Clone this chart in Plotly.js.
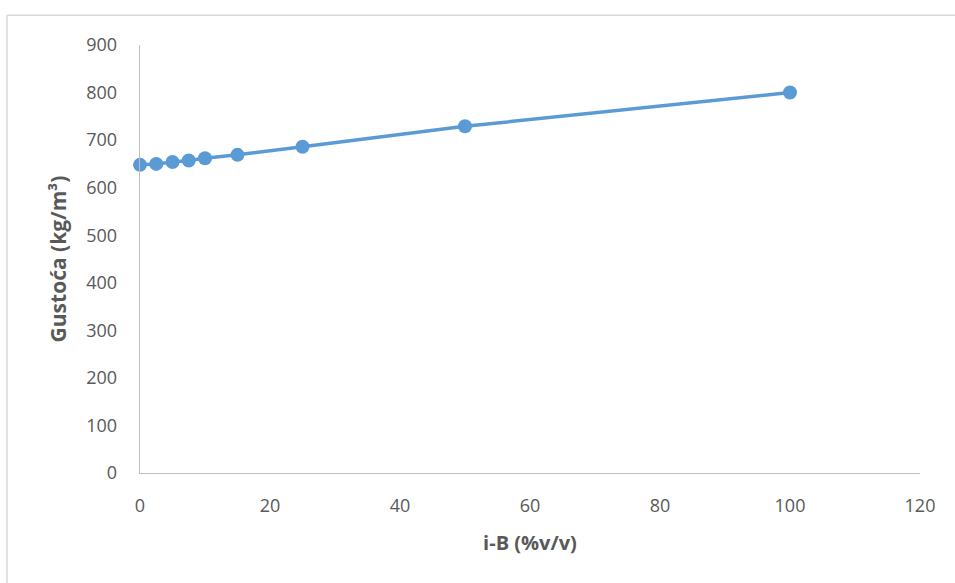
<!DOCTYPE html>
<html>
<head>
<meta charset="utf-8">
<script src="https://cdn.plot.ly/plotly-3.0.1.min.js"></script>
<style>
html,body{margin:0;padding:0;background:#fff;}
#chart{width:955px;height:583px;}
</style>
</head>
<body>
<div id="chart"></div>
<script>
const iB = [0, 2.5, 5, 7.5, 10, 15, 25, 50, 100];
const gustoca = [648, 650, 654, 657, 662, 669, 686, 729, 800];
const xTicks = [0, 20, 40, 60, 80, 100, 120];
const yTicks = [0, 100, 200, 300, 400, 500, 600, 700, 800, 900];

const fontFam = '"Open Sans", "Liberation Sans", sans-serif';
const trace = {
  x: iB, y: gustoca, type: 'scatter', mode: 'lines+markers',
  line: {color: '#5b9bd5', width: 3.5},
  marker: {color: '#5b9bd5', size: 14},
  cliponaxis: false,
  hoverinfo: 'x+y'
};
const layout = {
  width: 955, height: 583,
  margin: {l: 140, r: 35, t: 45, b: 110},
  paper_bgcolor: '#fff', plot_bgcolor: '#fff',
  showlegend: false,
  font: {family: fontFam, color: '#595959', size: 18},
  xaxis: {
    range: [0, 120], tickvals: xTicks, ticktext: xTicks.map(String),
    showgrid: false, zeroline: false, showline: true, linecolor: '#bfbfbf', linewidth: 1.3,
    ticks: '', ticklen: 0, ticklabelstandoff: 16, tickfont: {size: 18, color: '#595959'},
    title: {text: '<b>i-B (%v/v)</b>', font: {size: 20, color: '#595959'}, standoff: 20}
  },
  yaxis: {
    range: [0, 900], tickvals: yTicks, ticktext: yTicks.map(String),
    showgrid: false, zeroline: false, showline: true, linecolor: '#bfbfbf', linewidth: 1.3,
    ticks: '', ticklen: 0, ticklabelstandoff: 18, tickfont: {size: 18, color: '#595959'},
    title: {text: '<b>Gustoća (kg/m³)</b>', font: {size: 21, color: '#595959'}, standoff: 14}
  },
  shapes: [
    {type: 'line', xref: 'paper', yref: 'paper', x0: -0.1705, x1: 1.1, y0: 1.0698, y1: 1.0698,
     line: {color: '#d9d9d9', width: 1.5}},
    {type: 'line', xref: 'paper', yref: 'paper', x0: -0.1705, x1: -0.1705, y0: 1.0698, y1: -0.3,
     line: {color: '#d9d9d9', width: 1.5}}
  ]
};
Plotly.newPlot('chart', [trace], layout, {displayModeBar: false, staticPlot: true});
</script>
</body>
</html>
